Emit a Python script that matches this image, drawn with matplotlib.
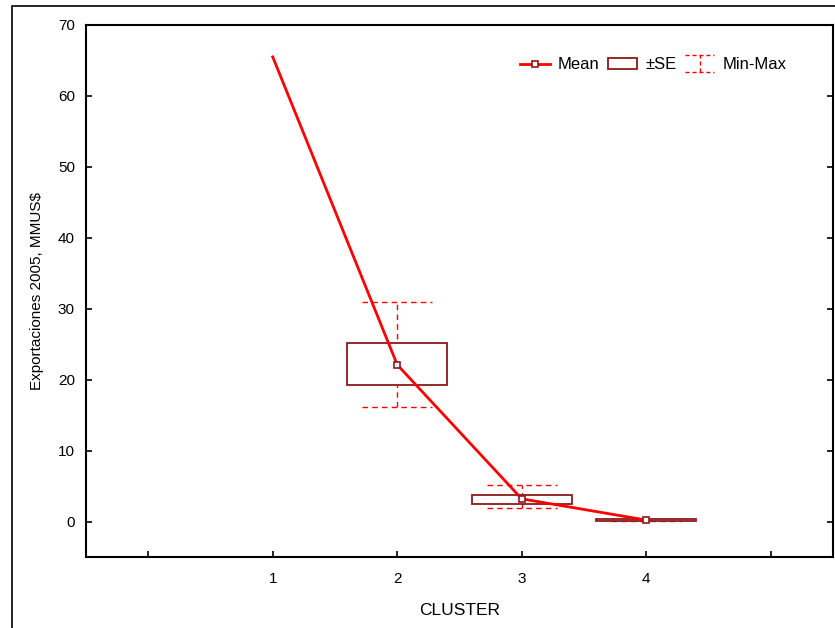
import numpy as np
import matplotlib
matplotlib.use('Agg')
import matplotlib.pyplot as plt
from matplotlib.patches import Rectangle
from matplotlib.lines import Line2D
from matplotlib.legend_handler import HandlerBase

plt.rcParams['font.family'] = ['Liberation Sans', 'DejaVu Sans']
plt.rcParams['font.size'] = 11

# values
clusters = [1, 2, 3, 4]
means = [65.5, 22.1, 3.2, 0.2]
se_low = [np.nan, 19.3, 2.5, 0.12]
se_high = [np.nan, 25.1, 3.8, 0.3]
mins = [np.nan, 16.2, 1.9, 0.08]
maxs = [np.nan, 30.9, 5.1, 0.35]
tick_labels = ['', '1', '2', '3', '4', '']

line_red = '#ff0000'
box_red = '#8b1a1a'


class MinMaxHandler(HandlerBase):
    # dashed caps with a dashed vertical stem, like the whisker icon
    def create_artists(self, legend, orig_handle, xdescent, ydescent,
                       width, height, fontsize, trans):
        x0, x1 = -xdescent, -xdescent + width
        y0, y1 = -ydescent - 0.2 * height, -ydescent + 1.2 * height
        xm = (x0 + x1) / 2
        kw = dict(color=line_red, lw=1, ls=(0, (3, 2)), transform=trans)
        return [Line2D([x0, x1], [y0, y0], **kw),
                Line2D([x0, x1], [y1, y1], **kw),
                Line2D([xm, xm], [y0, y1], **kw)]


fig = plt.figure(figsize=(8.35, 6.28), dpi=100)
fig.patches.append(Rectangle((12 / 835, -0.05), 1.1, 1 - 6 / 628 + 0.05,
                             transform=fig.transFigure, fill=False,
                             edgecolor='black', lw=1.2))
ax = fig.add_axes([86 / 835, 1 - 557 / 628, (833 - 86) / 835, (557 - 25) / 628])

for x, lo, hi, mn, mx in zip(clusters, se_low, se_high, mins, maxs):
    if np.isnan(lo):
        continue
    ax.vlines(x, mn, mx, color=line_red, lw=1, ls=(0, (4, 3)), zorder=2)
    ax.hlines([mn, mx], x - 0.28, x + 0.28, color=line_red, lw=1,
              ls=(0, (4, 3)), zorder=2)
    ax.add_patch(Rectangle((x - 0.4, lo), 0.8, hi - lo, facecolor='white',
                           edgecolor=box_red, lw=1.3, zorder=3))

ax.plot(clusters, means, color=line_red, lw=2, zorder=4)
ax.plot(clusters[1:], means[1:], ls='none', marker='s', ms=5, mfc='white',
        mec=box_red, mew=1.2, zorder=5)

ax.set_xlim(-0.5, 5.5)
ax.set_ylim(-5, 70)
ax.set_xticks(range(6))
ax.set_xticklabels(tick_labels)
ax.set_yticks(range(0, 71, 10))
ax.tick_params(direction='in', length=4, width=1.2, top=False, right=True,
               labelsize=11)
ax.tick_params(axis='y', pad=8)
ax.tick_params(axis='x', pad=11)
for s in ax.spines.values():
    s.set_linewidth(1.5)

ax.set_xlabel('CLUSTER', fontsize=12.5, labelpad=12)
ax.set_ylabel('Exportaciones 2005, MMUS$', fontsize=11, labelpad=10)

mean_h = Line2D([], [], color=line_red, lw=2, marker='s', ms=5, mfc='white',
                mec=box_red, mew=1.2)
se_h = Rectangle((0, 0), 1, 1, facecolor='white', edgecolor=box_red, lw=1.3)
mm_h = Line2D([], [])
ax.legend([mean_h, se_h, mm_h], ['Mean', '\u00b1SE', 'Min-Max'], ncol=3,
          loc='center right', bbox_to_anchor=(0.958, 0.925), frameon=False,
          handler_map={mm_h: MinMaxHandler()}, handlelength=1.75,
          handletextpad=0.5, columnspacing=0.5, fontsize=12)

fig.savefig('out.png', dpi=100)
